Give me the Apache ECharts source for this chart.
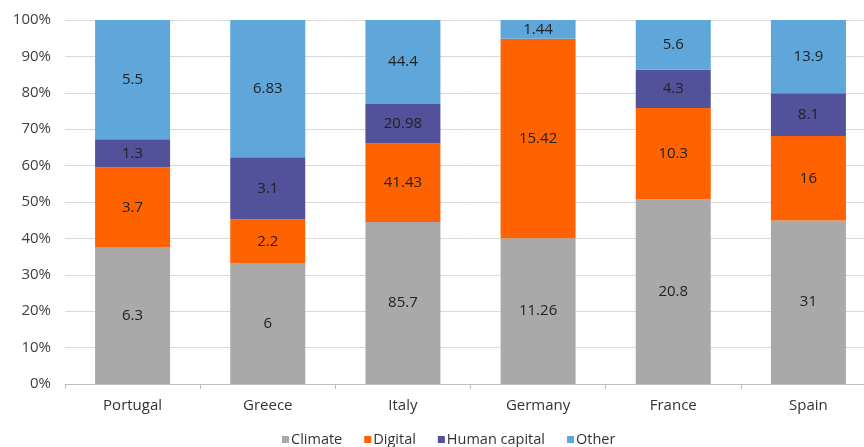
<!DOCTYPE html>
<html>
<head>
<meta charset="utf-8">
<script src="https://cdn.jsdelivr.net/npm/echarts@6/dist/echarts.min.js"></script>
<style>
  html, body { margin: 0; padding: 0; background: #fff; overflow: hidden; }
  #chart { width: 876px; height: 447px; }
</style>
</head>
<body>
<div id="chart"></div>
<script>
// Funding allocation per country (raw amounts), shown as shares of each country's total
const countries = ['Portugal', 'Greece', 'Italy', 'Germany', 'France', 'Spain'];
const climate = [6.3, 6, 85.7, 11.26, 20.8, 31];
const digital = [3.7, 2.2, 41.43, 15.42, 10.3, 16];
const humanCapital = [1.3, 3.1, 20.98, 0, 4.3, 8.1];
const other = [5.5, 6.83, 44.4, 1.44, 5.6, 13.9];
const yTicks = [0, 10, 20, 30, 40, 50, 60, 70, 80, 90, 100];

const seriesDefs = [
  { name: 'Climate', values: climate, color: '#a9a9a9' },
  { name: 'Digital', values: digital, color: '#ff6200' },
  { name: 'Human capital', values: humanCapital, color: '#525199' },
  { name: 'Other', values: other, color: '#5fa6da' }
];

const totals = countries.map((_, i) =>
  seriesDefs.reduce((s, d) => s + d.values[i], 0));

const FONT = 'Open Sans';

const chart = echarts.init(document.getElementById('chart'));
chart.setOption({
  animation: false,
  textStyle: { fontFamily: FONT },
  grid: { left: 65, top: 20, right: 0, bottom: 63, containLabel: false },
  legend: {
    bottom: -5,
    left: 277,
    itemWidth: 7,
    itemHeight: 7,
    itemGap: 22,
    icon: 'rect',
    textStyle: { fontFamily: FONT, fontSize: 14.5, color: '#333', padding: [0, 0, 0, -3] },
    data: seriesDefs.map(d => d.name)
  },
  xAxis: {
    type: 'category',
    data: countries,
    axisLine: { lineStyle: { color: '#bfbfbf' } },
    axisTick: { show: true, length: 5, lineStyle: { color: '#bfbfbf' } },
    axisLabel: { fontFamily: FONT, fontSize: 15, color: '#333', margin: 14 }
  },
  yAxis: {
    type: 'value',
    min: 0,
    max: 100,
    interval: 10,
    axisLine: { show: false },
    axisTick: { show: false },
    axisLabel: {
      fontFamily: FONT, fontSize: 15, color: '#404040', margin: 14,
      formatter: v => yTicks.includes(v) ? v + '%' : ''
    },
    splitLine: { lineStyle: { color: '#d9d9d9', width: 1 } }
  },
  series: seriesDefs.map(d => ({
    name: d.name,
    type: 'bar',
    stack: 'total',
    barWidth: 75,
    itemStyle: { color: d.color },
    label: {
      show: true,
      position: 'inside',
      fontFamily: FONT,
      fontSize: 15,
      color: '#222',
      formatter: p => d.values[p.dataIndex] === 0 ? '' : String(d.values[p.dataIndex])
    },
    data: d.values.map((v, i) => v / totals[i] * 100)
  }))
});
</script>
</body>
</html>
